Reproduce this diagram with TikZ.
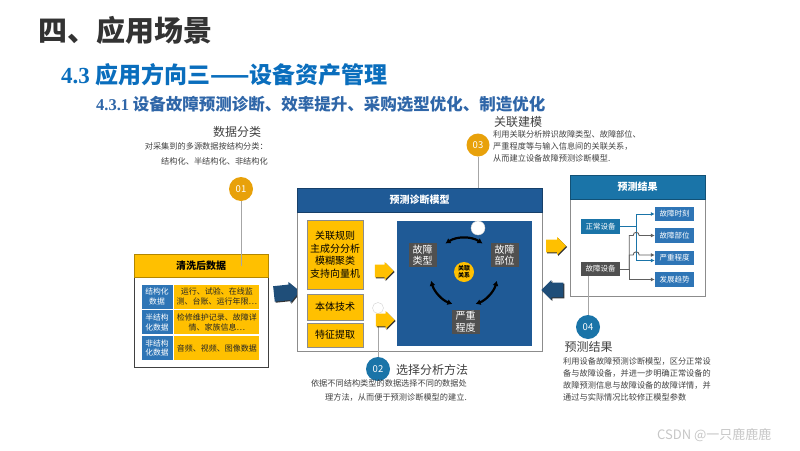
\documentclass[tikz,border=0pt]{standalone}
\usepackage{fontspec}
\setmainfont{Noto Sans CJK SC}
\newfontfamily\numfont{Liberation Serif}
\usetikzlibrary{arrows.meta,positioning,calc,shapes.arrows,shadows,backgrounds}
\definecolor{Ink}{HTML}{404040}
\definecolor{Title}{HTML}{333333}
\definecolor{Head}{HTML}{0A6EBD}
\definecolor{SubHead}{HTML}{2F66A8}
\definecolor{Gold}{HTML}{FFC000}
\definecolor{Amber}{HTML}{E8A10A}
\definecolor{Teal}{HTML}{1A74A8}
\definecolor{Navy}{HTML}{1F5A96}
\definecolor{Deep}{HTML}{1F4E79}
\definecolor{Cell}{HTML}{2E75B6}
\definecolor{Slate}{HTML}{505050}
\definecolor{Wire}{HTML}{A6A6A6}
\definecolor{Frame}{HTML}{8C8C8C}
\tikzset{
casebody/.style={draw=#1, line width=1pt, fill=white, inner sep=0pt},
casehead/.style={draw=#1!70!black, line width=0.8pt, fill=#1, inner sep=0pt, minimum height=24pt, font=\bfseries\fontsize{10}{12}\selectfont},
methodbox/.style={draw=Frame, fill=Gold, inner sep=0pt, minimum width=56pt, align=center, font=\fontsize{10}{12.5}\selectfont},
labelcell/.style={draw=white, line width=0.8pt, fill=Cell, text=white, minimum width=32pt, minimum height=25pt, inner sep=0pt, align=center, font=\fontsize{7.8}{9.6}\selectfont},
datacell/.style={draw=white, line width=0.8pt, fill=Gold, text=black!85, minimum width=86pt, minimum height=25pt, inner sep=0pt, align=center, font=\fontsize{8}{10}\selectfont},
factorbox/.style={fill=Slate, text=white, minimum width=28pt, minimum height=24pt, inner sep=1pt, align=center, font=\fontsize{10}{11.5}\selectfont},
hubcircle/.style={circle, fill=Gold, minimum size=20pt, inner sep=0pt, align=center, font=\bfseries\fontsize{6}{7}\selectfont},
resultbox/.style={fill=#1, text=white, minimum width=39pt, minimum height=14.5pt, inner sep=0pt, font=\fontsize{7.5}{9}\selectfont},
stepcircle/.style={circle, fill=#1, text=white, minimum size=24pt, inner sep=0pt, font=\fontsize{9.5}{10}\selectfont},
dotcircle/.style={circle, fill=white, draw=gray!35, inner sep=0pt},
notetitle/.style={text=Ink, inner sep=0pt, font=\fontsize{12}{14}\selectfont},
notetext/.style={text=Ink, inner sep=0pt, font=\fontsize{8.2}{#1}\selectfont},
notetext/.default=11.7,
blockarrow/.style={single arrow, fill=#1, single arrow head extend=2.5pt, inner sep=6pt, drop shadow={shadow xshift=1pt, shadow yshift=-1pt, opacity=0.8, fill=black}},
stepwire/.style={draw=Wire, line width=1pt},
linkarc/.style={{Latex[length=5pt,width=6pt]}-{Latex[length=5pt,width=6pt]}, line width=2.2pt},
bluewire/.style={-{Latex[length=4pt,width=4pt]}, draw=Teal, line width=0.9pt},
graywire/.style={-{Latex[length=4pt,width=4pt]}, draw=gray!75!black, line width=0.9pt},
hop/.style={out=90, in=90, looseness=1.8}
}

\begin{document}
\begin{tikzpicture}[x=1pt, y=-1pt, >=Latex]
  \useasboundingbox (0,0) rectangle (800,450);
  % headings
  \node[anchor=west, inner sep=0pt, text=Title, font=\bfseries\fontsize{29}{32}\selectfont] (title) at (38,30) {四、应用场景};
  \node[anchor=west, inner sep=0pt, text=Head, font=\bfseries\fontsize{23}{26}\selectfont] (sect) at (61,75) {{\numfont 4.3} 应用方向三——设备资产管理};
  \node[anchor=west, inner sep=0pt, text=SubHead, font=\bfseries\fontsize{16.5}{19}\selectfont] (subsect) at (96,104) {{\numfont 4.3.1} 设备故障预测诊断、效率提升、采购选型优化、制造优化};

  % 01 data classification
  \node[notetitle] (t01) at (237,132) {数据分类};
  \node[notetext=15, anchor=north east, align=right] (d01) at (268,142.5) {对采集到的多源数据按结构分类：\\结构化、半结构化、非结构化};
  \node[stepcircle=Amber] (c01) at (241,189) {01};

  % cleaned data
  \node[casebody=Ink, minimum width=134pt, minimum height=90pt] (cleanbody) at (201,322) {};
  \node[casehead=Gold, text=black, minimum width=134pt, minimum height=23pt] (cleanhead) at (201,265.5) {清洗后数据};
  \node[labelcell] (l1) at (157,296.5) {结构化\\数据};
  \node[labelcell, below=0pt of l1] (l2) {半结构\\化数据};
  \node[labelcell, below=0pt of l2] (l3) {非结构\\化数据};
  \node[datacell, right=0pt of l1] (r1) {运行、试验、在线监\\测、台账、运行年限…};
  \node[datacell, right=0pt of l2] (r2) {检修维护记录、故障详\\情、家族信息…};
  \node[datacell, right=0pt of l3] (r3) {音频、视频、图像数据};
  \draw[stepwire] (c01) -- (c01 |- cleanhead.center);
  \node[blockarrow=Deep, inner sep=7pt, minimum height=26pt, minimum width=21pt, rotate=6] (inarrow) at (283,293) {};

  % 03 association modelling
  \node[notetitle] (t03) at (518,122) {关联建模};
  \node[notetext=12, anchor=north west, align=left] (d03) at (493,130.5) {利用关联分析辨识故障类型、故障部位、\\严重程度等与输入信息间的关联关系，\\从而建立设备故障预测诊断模型.};
  \node[stepcircle=Amber, minimum size=23pt] (c03) at (478,145) {03};

  % prediction and diagnosis model
  \node[casebody=Frame, minimum width=245pt, minimum height=139pt] (modelbody) at (419.5,281.5) {};
  \node[casehead=Navy, text=white, minimum width=245pt] (modelhead) at (419.5,200) {预测诊断模型};
  \node[methodbox, minimum height=69pt] (m1) at (335,254.5) {关联规则\\主成分分析\\模糊聚类\\支持向量机};
  \node[methodbox, minimum height=26pt] (m2) at (335,307) {本体技术};
  \node[methodbox, minimum height=24pt] (m3) at (335,335) {特征提取};
  \node[fill=Navy, minimum width=135pt, minimum height=125pt, inner sep=0pt] (panel) at (464.5,283.5) {};
  \node[factorbox] (ftype) at (422.5,255) {故障\\类型};
  \node[factorbox] (fpart) at (504.5,255) {故障\\部位};
  \node[factorbox] (fsev) at (465.5,321.5) {严重\\程度};
  \node[hubcircle] (rel) at (464,272) {关联\\关系};
  \draw[linkarc] ([shift={(123:34pt)}]rel.center) arc[start angle=123, end angle=57, radius=34pt];
  \draw[linkarc] ([shift={(195:34pt)}]rel.center) arc[start angle=195, end angle=250, radius=34pt];
  \draw[linkarc] ([shift={(290:34pt)}]rel.center) arc[start angle=290, end angle=345, radius=34pt];
  \node[dotcircle, minimum size=14pt] (wc3) at (478,228) {};
  \begin{scope}[on background layer]
    \draw[stepwire] (c03) -- (wc3);
  \end{scope}
  \node[blockarrow=Gold, minimum height=17pt, minimum width=18pt] (ya1) at (381,271) {};

  % 02 method selection
  \node[stepcircle=Teal] (c02) at (378,369) {02};
  \node[dotcircle, minimum size=11pt] (wc2) at (378,308) {};
  \draw[stepwire] (c02) -- (wc2);
  \node[blockarrow=Gold, minimum height=17pt, minimum width=18pt] (ya2) at (382,320) {};
  \node[notetitle, anchor=west] (t02) at (396,370) {选择分析方法};
  \node[notetext=13.5, anchor=north east, align=right] (d02) at (467,379.5) {依据不同结构类型的数据选择不同的数据处\\理方法，从而便于预测诊断模型的建立.};

  % arrows between model and results
  \node[blockarrow=Gold, minimum height=20pt, minimum width=18pt] (outarrow) at (553,246) {};
  \node[blockarrow=Deep, inner sep=6.5pt, shape border rotate=180, minimum height=22pt, minimum width=20pt] (backarrow) at (556,290) {};

  % prediction results
  \node[casebody=Frame, minimum width=135pt, minimum height=97pt] (resbody) at (637.5,247.5) {};
  \node[casehead=Teal, text=white, minimum width=135pt] (reshead) at (637.5,187) {预测结果};
  \node[resultbox=Teal] (normal) at (600.5,226.5) {正常设备};
  \node[resultbox=Slate] (fault) at (600.5,269) {故障设备};
  \node[resultbox=Cell] (k1) at (674.5,214) {故障时刻};
  \node[resultbox=Cell] (k2) at (674.5,235.5) {故障部位};
  \node[resultbox=Cell] (k3) at (674.5,258) {严重程度};
  \node[resultbox=Cell] (k4) at (674.5,279.5) {发展趋势};
  \coordinate (nb) at ([xshift=16pt]normal.east);
  \coordinate (gb) at ([xshift=9pt]fault.east);
  \draw[bluewire, -] (normal.east) -- (nb);
  \draw[bluewire] (nb) |- (k1.west);
  \draw[bluewire] (nb) |- ([yshift=-2.5pt]k3.west);
  \draw[graywire, -] (fault.east) -- (gb);
  \draw[graywire] (gb) |- ([xshift=-3pt]nb |- k2.west) to[hop] ([xshift=3pt]nb |- k2.west) -- (k2.west);
  \draw[graywire] (gb) |- ([xshift=-3pt,yshift=3pt]nb |- k3.west) to[hop] ([xshift=3pt,yshift=3pt]nb |- k3.west) -- ([yshift=3pt]k3.west);
  \draw[graywire] (gb) |- (k4.west);

  % 04 results
  \node[stepcircle=Teal] (c04) at (588,327) {04};
  \draw[stepwire] (c04) -- (c04 |- fault.south);
  \node[notetitle] (t04) at (588.5,347) {预测结果};
  \node[notetext, anchor=north west, align=left] (d04) at (563,357.8) {利用设备故障预测诊断模型，区分正常设\\备与故障设备，并进一步明确正常设备的\\故障预测信息与故障设备的故障详情，并\\通过与实际情况比较修正模型参数};

  \node[anchor=west, inner sep=0pt, text=gray!45, font=\fontsize{13}{15}\selectfont] (mark) at (657,435) {CSDN @一只鹿鹿鹿};
\end{tikzpicture}
\end{document}
